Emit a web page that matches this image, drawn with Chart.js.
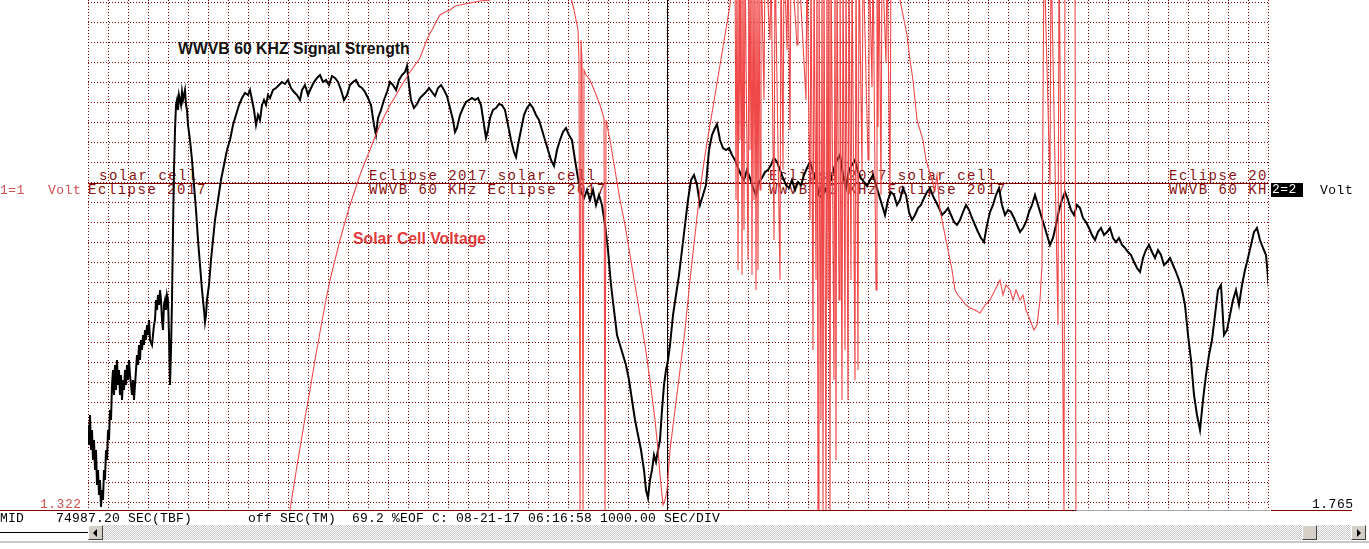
<!DOCTYPE html>
<html>
<head>
<meta charset="utf-8">
<script src="https://cdn.jsdelivr.net/npm/chart.js@4.4.1/dist/chart.umd.min.js"></script>
<style>
body { margin: 0; background: #fff; }
#wrap { position: relative; width: 1369px; height: 549px; overflow: hidden; background: #fff; }
#wrap div { position: absolute; white-space: pre; }
#scope { position: absolute; left: 0; top: 0; z-index: 2; }
.lab { font-family: "Liberation Mono", monospace; font-size: 14px; line-height: 14px; letter-spacing: 1.5px; color: #8a1010; z-index: 1; }
.sm { font-family: "Liberation Mono", monospace; font-size: 13px; line-height: 13px; letter-spacing: 0.5px; z-index: 3; }
.stat { font-family: "Liberation Mono", monospace; font-size: 13px; line-height: 13px; letter-spacing: 0.2px; color: #000; z-index: 3; }
.ttl { font-family: "Liberation Sans", Arial, sans-serif; font-weight: bold; font-size: 15.8px; line-height: 16px; z-index: 1; }
.btn { background: #d4d0c8; border-top: 1px solid #fff; border-left: 1px solid #fff; border-right: 1px solid #404040; border-bottom: 1px solid #404040; box-sizing: border-box; z-index: 3; }
.trk { background: repeating-conic-gradient(#c8c8c8 0 25%, #fff 0 50%) 0 0/2px 2px; z-index: 3; }
</style>
</head>
<body>
<div id="wrap">
  <canvas id="scope" width="1369" height="549"></canvas>

  <div class="lab" style="left:99px;top:169px">solar cell</div>
  <div class="lab" style="left:88px;top:183px">Eclipse 2017</div>
  <div class="lab" style="left:369px;top:169px">Eclipse 2017 solar cell</div>
  <div class="lab" style="left:369px;top:183px">WWVB 60 KHz Eclipse 2017</div>
  <div class="lab" style="left:769px;top:169px">Eclipse 2017 solar cell</div>
  <div class="lab" style="left:769px;top:183px">WWVB 60 KHz Eclipse 2017</div>
  <div class="lab" style="left:1169px;top:169px">Eclipse 20</div>
  <div class="lab" style="left:1169px;top:183px">WWVB 60 KH</div>

  <div class="ttl" style="left:178px;top:41px;color:#111">WWVB 60 KHZ Signal Strength</div>
  <div class="ttl" style="left:353px;top:231px;color:#e03c3c">Solar Cell Voltage</div>

  <div class="sm" style="left:0px;top:184px;color:#d05050">1=1</div>
  <div class="sm" style="left:48px;top:184px;color:#d05050">Volt</div>
  <div class="sm" style="left:1271px;top:183px;width:32px;height:14px;background:#000;color:#fff;padding-left:1px;box-sizing:border-box">2=2</div>
  <div class="sm" style="left:1320px;top:184px;color:#000">Volt</div>
  <div class="sm" style="left:40px;top:498px;color:#d05050">1.322</div>
  <div class="sm" style="left:1312px;top:498px;color:#000">1.765</div>

  <div class="stat" style="left:0px;top:512px">MID</div>
  <div class="stat" style="left:56px;top:512px">74987.20 SEC(TBF)</div>
  <div class="stat" style="left:248px;top:512px">off SEC(TM)</div>
  <div class="stat" style="left:352px;top:512px">69.2 %EOF C:</div>
  <div class="stat" style="left:456px;top:512px">08-21-17 06:16:58 1000.00 SEC/DIV</div>

  <div style="left:0;top:532px;width:88px;height:1px;background:#000"></div>
  <div class="btn" style="left:88px;top:525px;width:15px;height:15px"></div>
  <div style="left:93px;top:529px;width:0;height:0;border-top:4px solid transparent;border-bottom:4px solid transparent;border-right:4px solid #000;z-index:4"></div>
  <div class="trk" style="left:103px;top:525px;width:1199px;height:15px"></div>
  <div class="btn" style="left:1302px;top:525px;width:15px;height:15px"></div>
  <div class="trk" style="left:1317px;top:525px;width:34px;height:15px"></div>
  <div class="btn" style="left:1351px;top:525px;width:15px;height:15px"></div>
  <div style="left:1357px;top:529px;width:0;height:0;border-top:4px solid transparent;border-bottom:4px solid transparent;border-left:4px solid #000;z-index:4"></div>
  <div style="left:0;top:541px;width:1369px;height:2px;background:#c8c8c8;z-index:3"></div>
</div>

<script>
// time in samples (50 s each, 20 samples = 1000 s/div), level in counts (20 counts/div)
var wwvbTrace = [[0,85],[1,65],[2,95],[3,60],[4,80],[5,50],[6,70],[7,40],[8,60],[9,25],[10,40],[11,15],[12,30],[13,3],[14,20],[15,10],[16,40],[17,30],[18,60],[19,50],[20,80],[21,70],[22,100],[23,90],[24,125],[25,140],[26,115],[27,145],[28,120],[29,150],[30,125],[31,140],[32,115],[33,135],[34,110],[35,130],[36,120],[37,140],[38,125],[39,145],[40,130],[41,150],[42,135],[43,125],[44,115],[45,130],[46,110],[47,125],[48,140],[49,155],[50,145],[51,165],[52,150],[53,170],[54,160],[55,175],[56,165],[57,180],[58,170],[59,185],[60,175],[61,190],[62,170],[64,165],[66,185],[67,190],[68,210],[69,200],[70,215],[71,205],[72,220],[73,210],[74,190],[75,180],[76,205],[77,210],[78,200],[79,215],[80,210],[81,175],[82,125],[83,160],[84,210],[85,280],[86,340],[87,380],[88,405],[89,410],[90,400],[91,415],[92,410],[93,405],[94,418],[95,410],[96,415],[97,420],[98,405],[99,400],[100,385],[102,370],[104,350],[106,325],[108,300],[110,270],[112,245],[114,220],[116,200],[117,188],[118,195],[119,210],[121,225],[123,250],[125,270],[127,290],[130,310],[133,330],[136,345],[139,360],[142,370],[145,385],[148,395],[151,405],[154,412],[157,417],[160,415],[162,420],[164,410],[166,400],[168,385],[170,395],[172,390],[174,405],[176,410],[178,405],[180,415],[182,412],[185,420],[188,422],[191,425],[194,428],[197,426],[200,430],[203,422],[206,418],[209,415],[212,410],[214,420],[217,425],[220,415],[223,422],[226,428],[229,432],[232,435],[235,428],[238,430],[241,425],[244,434],[247,432],[250,428],[253,420],[256,410],[259,415],[262,425],[265,428],[268,430],[271,424],[274,422],[277,418],[280,412],[283,405],[286,385],[288,375],[290,392],[293,400],[296,410],[299,418],[302,428],[305,425],[308,420],[311,430],[314,435],[317,438],[319,444],[321,425],[323,410],[326,402],[329,406],[332,412],[335,415],[338,418],[341,422],[344,418],[347,414],[350,422],[353,425],[356,420],[359,414],[362,402],[365,390],[367,378],[369,382],[372,395],[375,402],[378,408],[381,410],[384,412],[387,410],[390,412],[393,405],[396,385],[398,372],[400,380],[402,392],[405,400],[408,402],[411,406],[414,405],[417,400],[420,385],[423,370],[426,358],[428,353],[430,365],[433,380],[436,395],[439,402],[442,406],[445,402],[448,395],[451,390],[454,380],[457,370],[460,360],[463,350],[466,344],[469,360],[472,370],[475,378],[478,382],[481,375],[484,370],[487,350],[490,332],[493,318],[496,312],[499,320],[502,310],[505,320],[508,305],[511,315],[514,305],[517,285],[520,260],[523,225],[526,200],[529,175],[532,165],[535,155],[538,145],[541,130],[544,110],[547,90],[550,75],[553,60],[556,40],[558,20],[560,12],[562,30],[564,40],[566,55],[568,48],[570,60],[572,70],[574,100],[576,125],[578,140],[580,150],[582,165],[585,195],[588,215],[591,235],[594,260],[597,285],[600,310],[603,330],[606,335],[609,325],[612,305],[615,315],[618,325],[621,360],[624,375],[627,382],[629,386],[632,370],[635,362],[638,360],[641,362],[644,355],[647,350],[650,342],[653,335],[656,330],[659,340],[662,332],[665,322],[668,315],[671,328],[674,332],[677,338],[680,340],[683,345],[686,352],[689,348],[692,340],[695,332],[698,325],[701,322],[704,330],[707,320],[710,328],[713,325],[716,335],[719,342],[722,348],[725,338],[728,330],[731,315],[734,312],[737,320],[740,325],[743,330],[746,342],[749,350],[752,355],[755,335],[758,322],[761,340],[764,345],[767,350],[770,338],[773,332],[776,328],[779,324],[782,330],[785,335],[788,325],[791,315],[794,305],[797,295],[800,310],[803,318],[806,315],[809,305],[812,310],[815,322],[818,315],[821,298],[824,290],[827,295],[830,302],[833,305],[836,312],[839,318],[842,322],[845,314],[848,308],[851,302],[854,295],[857,298],[860,302],[863,295],[866,288],[869,285],[872,290],[875,298],[878,305],[881,300],[884,292],[887,285],[890,278],[893,272],[896,268],[899,285],[902,298],[905,305],[908,315],[911,322],[914,305],[917,295],[920,300],[923,298],[926,292],[929,285],[932,278],[935,282],[938,288],[941,298],[944,305],[947,315],[950,305],[953,295],[956,285],[959,275],[962,265],[965,272],[968,285],[971,300],[974,310],[977,318],[980,310],[983,300],[986,295],[989,305],[992,302],[995,292],[998,288],[1001,282],[1004,275],[1007,270],[1010,278],[1013,282],[1016,275],[1019,278],[1022,282],[1025,272],[1028,268],[1031,272],[1034,265],[1037,262],[1040,258],[1043,255],[1046,248],[1049,242],[1052,238],[1055,252],[1058,260],[1061,265],[1064,258],[1067,252],[1070,260],[1073,255],[1076,245],[1079,248],[1082,252],[1085,245],[1088,238],[1091,230],[1094,220],[1097,205],[1100,175],[1103,150],[1106,115],[1109,95],[1112,80],[1115,110],[1118,135],[1121,155],[1124,170],[1127,195],[1130,220],[1133,225],[1136,175],[1139,180],[1142,195],[1145,210],[1148,220],[1151,205],[1154,225],[1157,240],[1160,252],[1163,265],[1166,278],[1169,282],[1172,270],[1175,262],[1178,255],[1182,210]];

// solar cell channel; 560 = above the screen, -30 = below it
var solarTrace = [[197,-30],[202,0],[207,32],[212,62],[217,92],[222,120],[227,150],[232,178],[237,205],[242,230],[247,250],[252,270],[257,288],[262,305],[267,320],[272,335],[277,348],[282,360],[287,373],[292,385],[297,395],[302,405],[307,413],[312,422],[317,430],[322,438],[327,445],[332,452],[335,460],[338,468],[341,475],[344,480],[348,488],[352,495],[357,498],[362,500],[367,504],[372,505],[382,507],[392,509],[402,510],[408,520],[412,560],[477,560],[482,515],[484,508],[486,500],[488,490],[490,480],[491,450],[492,0],[493,470],[494,450],[495,0],[496,440],[498,435],[502,430],[507,418],[512,405],[516,392],[517,0],[518,390],[522,370],[527,340],[532,310],[537,285],[542,255],[547,225],[552,195],[557,165],[562,130],[567,90],[570,60],[572,35],[574,15],[575,5],[577,10],[579,20],[582,60],[587,100],[592,140],[597,180],[602,230],[607,275],[612,320],[617,355],[622,385],[627,415],[632,445],[637,475],[642,505],[644,530],[647,560],[648,310],[649,560],[650,240],[651,560],[652,370],[653,560],[654,235],[655,560],[656,280],[657,560],[660,250],[661,560],[662,360],[663,560],[664,235],[665,560],[666,310],[667,560],[668,220],[669,560],[670,240],[671,560],[672,320],[673,560],[676,410],[677,560],[682,470],[683,560],[686,270],[687,560],[692,230],[693,560],[695,340],[696,560],[699,460],[700,560],[702,380],[703,560],[709,465],[710,560],[718,410],[719,560],[722,290],[723,560],[725,160],[726,560],[728,230],[729,560],[730,0],[731,560],[733,90],[734,560],[735,0],[736,560],[738,0],[739,560],[740,210],[741,560],[742,0],[743,560],[746,130],[747,560],[748,50],[749,560],[751,210],[752,560],[754,110],[755,560],[757,160],[758,560],[760,110],[761,560],[763,230],[764,560],[767,130],[768,560],[770,140],[771,560],[774,340],[775,560],[780,350],[781,560],[784,423],[785,560],[788,220],[789,560],[790,383],[791,560],[793,315],[794,560],[798,447],[799,560],[802,320],[803,560],[807,560],[812,510],[815,495],[819,475],[822,450],[825,430],[827,410],[829,390],[832,380],[835,370],[838,350],[841,340],[844,330],[847,320],[849,335],[852,300],[855,285],[858,270],[861,255],[864,240],[867,220],[870,215],[874,210],[878,205],[882,202],[887,200],[892,197],[897,205],[902,210],[907,220],[912,230],[915,215],[918,225],[922,220],[925,210],[928,220],[932,210],[935,215],[938,200],[942,190],[946,180],[949,185],[952,210],[954,245],[956,560],[962,325],[963,560],[970,185],[971,560],[976,0],[977,560],[987,560],[988,-30],[1182,-30]];

var ch1Level = 327;     // "1=1" marker
var cursorTime = 579;   // scope cursor
var solarOffTime = 988; // solar channel leaves the bottom of the screen
var gridRed = '#800000';

function toXY(arr) {
  return arr.map(function (p) { return { x: p[0], y: p[1] }; });
}

var scopeMarks = {
  id: 'scopeMarks',
  beforeDatasetsDraw: function (c) {
    var ctx = c.ctx, a = c.chartArea, x = c.scales.x, y = c.scales.y;
    ctx.save();
    ctx.lineWidth = 1;

    // dotted graticule on the scale ticks
    ctx.strokeStyle = gridRed;
    ctx.setLineDash([1, 2]);
    ctx.beginPath();
    x.ticks.forEach(function (t) {
      var px = Math.round(x.getPixelForValue(t.value)) + 0.5;
      ctx.moveTo(px, a.top); ctx.lineTo(px, a.bottom);
    });
    y.ticks.forEach(function (t) {
      var py = Math.round(y.getPixelForValue(t.value)) + 0.5;
      ctx.moveTo(a.left, py); ctx.lineTo(a.right, py);
    });
    ctx.stroke();
    ctx.setLineDash([]);

    var yr = Math.round(y.getPixelForValue(ch1Level)) + 0.5;
    ctx.beginPath(); ctx.moveTo(a.left, yr); ctx.lineTo(a.right, yr); ctx.stroke();

    var xc = Math.round(x.getPixelForValue(cursorTime)) + 0.5;
    ctx.strokeStyle = '#000';
    ctx.beginPath(); ctx.moveTo(xc, a.top); ctx.lineTo(xc, a.bottom); ctx.stroke();

    var yb = Math.round(a.bottom) + 0.5;
    var xo = Math.round(x.getPixelForValue(solarOffTime));
    ctx.strokeStyle = gridRed;
    ctx.beginPath(); ctx.moveTo(0, yb); ctx.lineTo(xo, yb); ctx.stroke();
    ctx.strokeStyle = '#a8a8a8';
    ctx.beginPath(); ctx.moveTo(xo, yb); ctx.lineTo(a.right + 2, yb); ctx.stroke();
    ctx.strokeStyle = gridRed;
    ctx.beginPath(); ctx.moveTo(a.right + 3, yb); ctx.lineTo(a.right + 84, yb); ctx.stroke();
    ctx.restore();
  }
};

var ctx = document.getElementById('scope').getContext('2d');
var scope = new Chart(ctx, {
  type: 'line',
  data: {
    datasets: [{
      label: 'Solar Cell Voltage',
      data: toXY(solarTrace),
      borderColor: '#f04848',
      borderWidth: 1.1,
      pointRadius: 0,
      tension: 0
    }, {
      label: 'WWVB 60 KHz Signal Strength',
      data: toXY(wwvbTrace),
      borderColor: '#000',
      borderWidth: 2,
      pointRadius: 0,
      tension: 0
    }]
  },
  options: {
    responsive: false,
    animation: false,
    devicePixelRatio: 1,
    layout: { padding: { left: 88, right: 101, top: 0, bottom: 39 } },
    plugins: { legend: { display: false }, tooltip: { enabled: false } },
    scales: {
      x: {
        type: 'linear', min: 0, max: 1180,
        ticks: { display: false, stepSize: 20 },
        grid: { display: false, drawTicks: false },
        border: { display: false }
      },
      y: {
        min: 0, max: 510,
        afterBuildTicks: function (s) {
          var t = [];
          for (var v = 8; v <= 510; v += 20) t.push({ value: v });
          s.ticks = t;
        },
        ticks: { display: false },
        grid: { display: false, drawTicks: false },
        border: { display: false }
      }
    }
  },
  plugins: [scopeMarks]
});
</script>
</body>
</html>
